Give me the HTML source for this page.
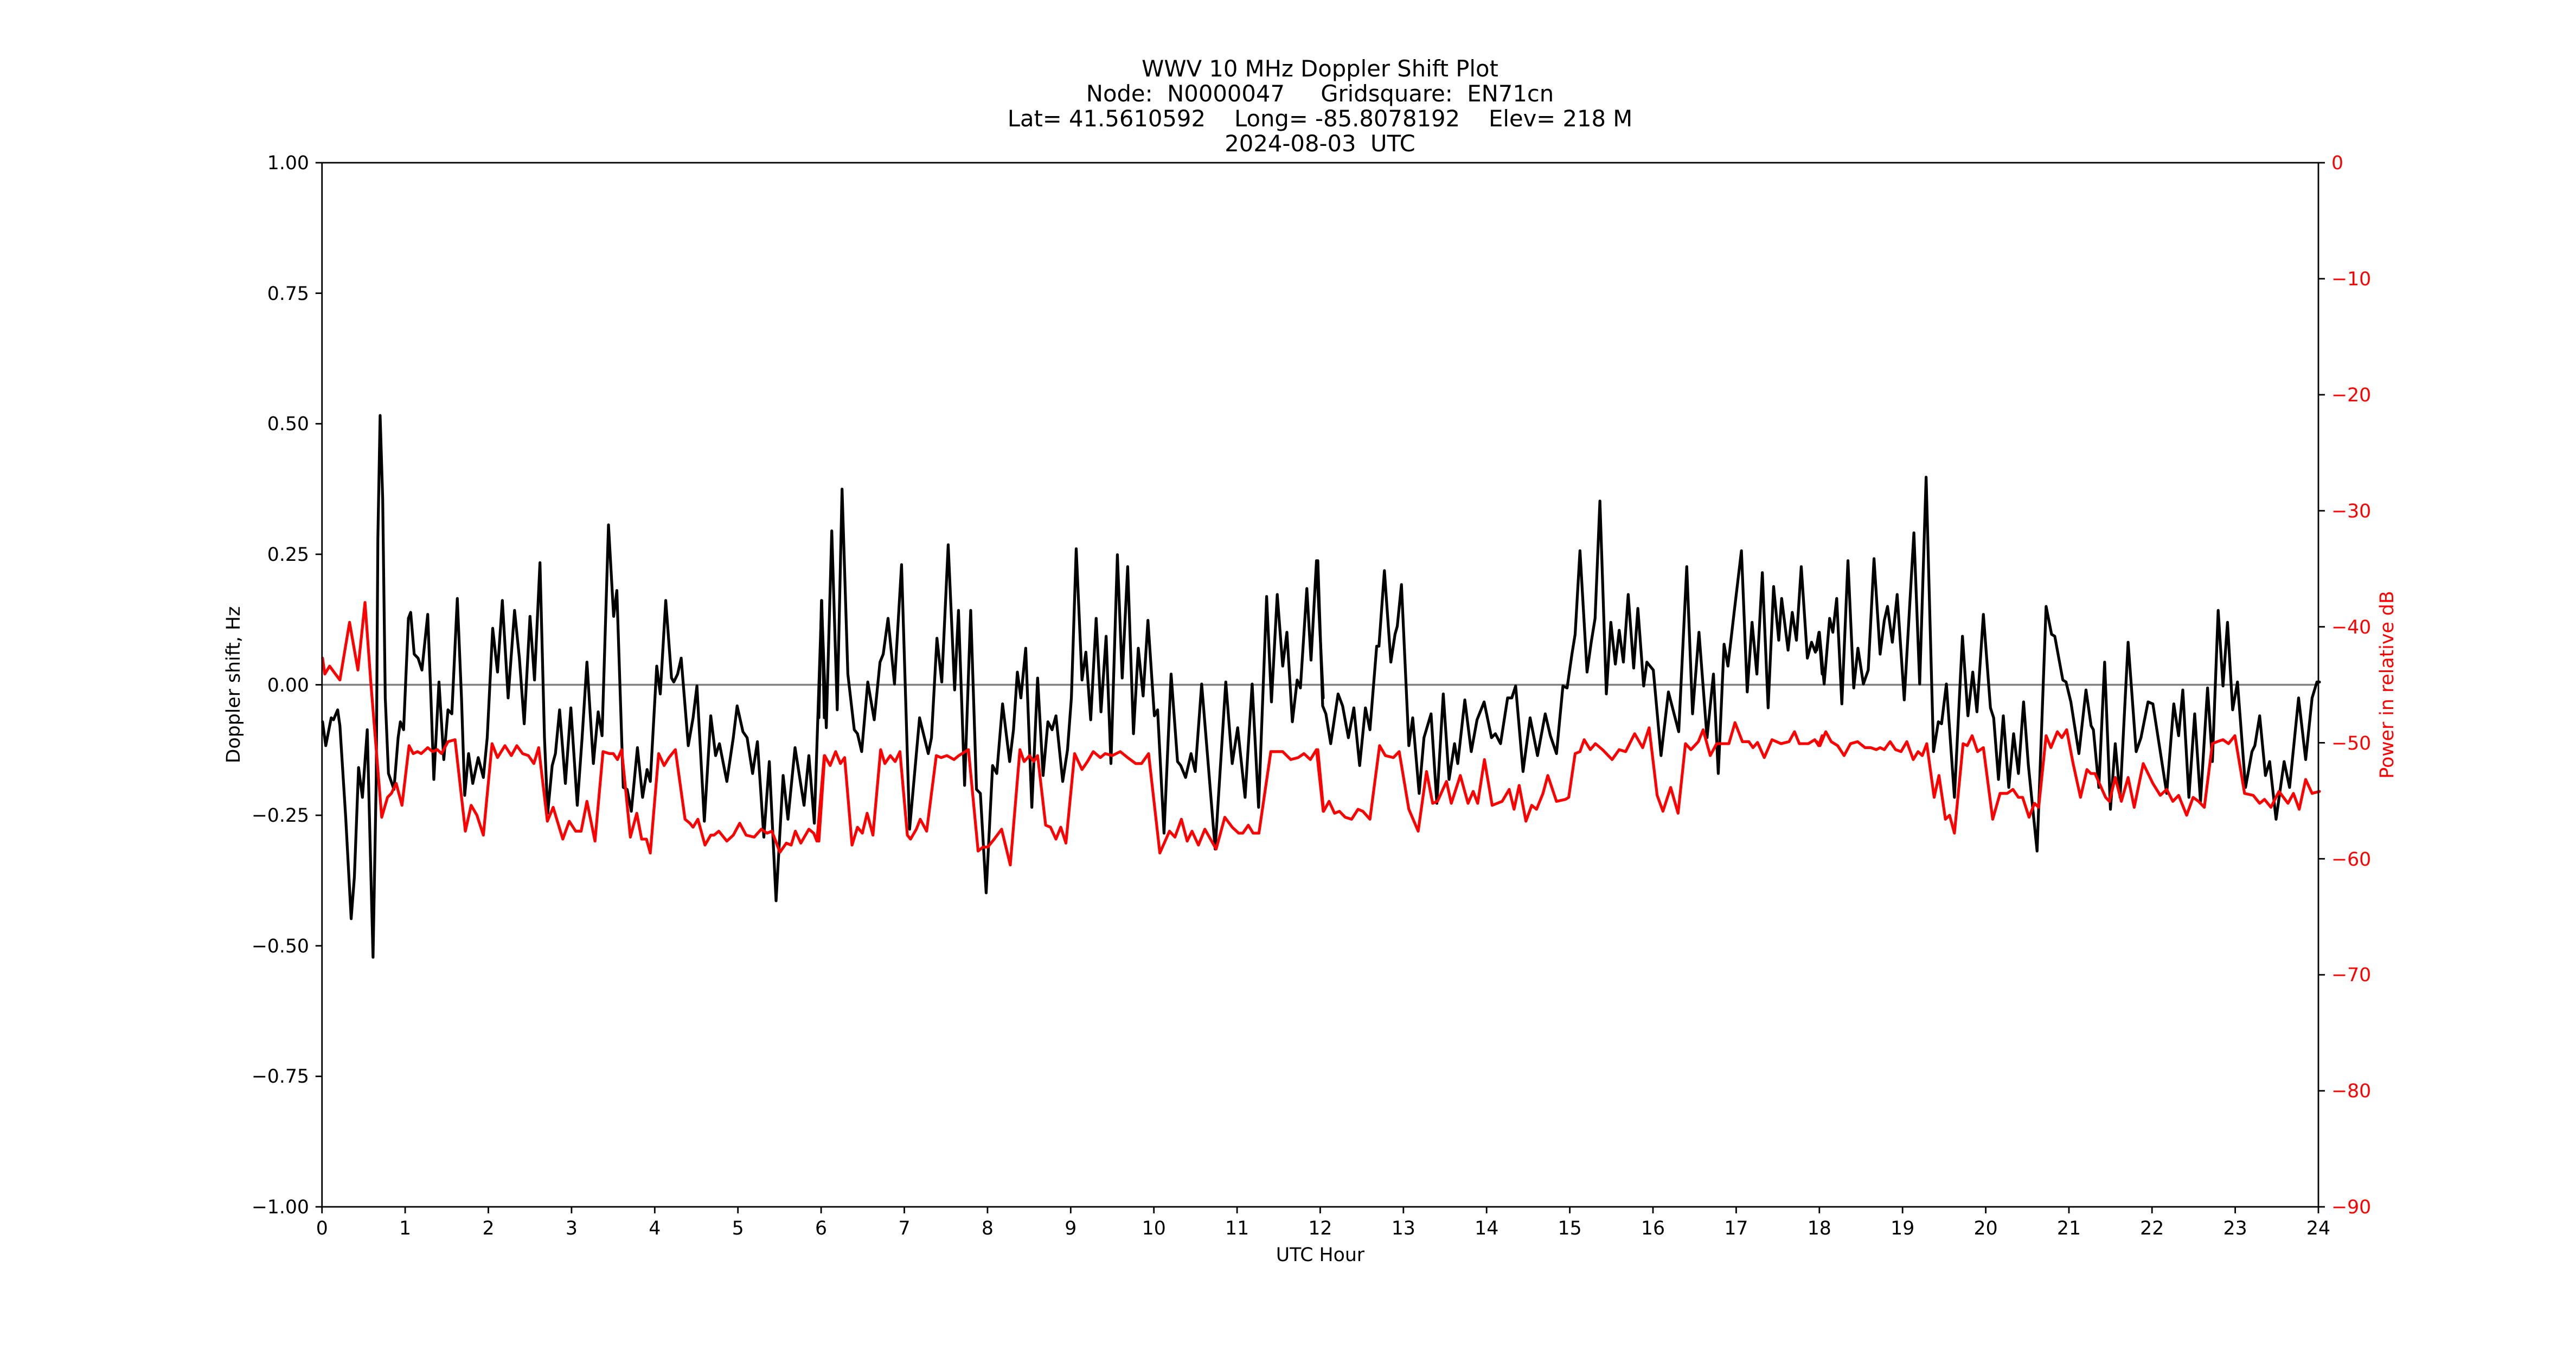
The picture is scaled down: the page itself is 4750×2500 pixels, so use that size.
<!DOCTYPE html>
<html><head><meta charset="utf-8"><style>
html,body{margin:0;padding:0;background:#fff;}
svg{display:block;font-family:"DejaVu Sans","Liberation Sans",sans-serif;}
text{white-space:pre;}
</style></head><body>
<svg width="4750" height="2500" viewBox="0 0 4750 2500" xmlns="http://www.w3.org/2000/svg">
<rect width="4750" height="2500" fill="#fff"/>
<g font-size="41.7" text-anchor="middle" fill="#000">
<text x="2434" y="141">WWV 10 MHz Doppler Shift Plot</text>
<text x="2434" y="187" xml:space="preserve">Node:  N0000047     Gridsquare:  EN71cn</text>
<text x="2434" y="233" xml:space="preserve">Lat= 41.5610592    Long= -85.8078192    Elev= 218 M</text>
<text x="2434" y="279" xml:space="preserve">2024-08-03  UTC</text>
</g>
<line x1="593.75" y1="1262.5" x2="4275" y2="1262.5" stroke="#808080" stroke-width="3.5"/>
<g fill="none" stroke-linejoin="round" stroke-linecap="round">
<g transform="translate(590,700) scale(0.5931,0.7334)">
<polyline vector-effect="non-scaling-stroke" stroke="#000" stroke-width="5.2" points="8,860 18,920 35,850 42,855 55,830 62,870 80,1100 97,1355 107,1250 120,975 132,1050 147,880 157,1200 165,1452 175,1000 180,400 187,90 195,300 203,800 213,990 230,1030 243,900 250,860 260,880 275,600 282,585 293,690 305,700 317,730 335,590 345,800 354,1005 370,760 385,955 398,830 410,840 427,550 440,800 450,1045 462,940 475,1015 492,950 508,1000 520,900 537,625 552,735 567,555 585,800 605,580 620,700 635,865 653,595 667,755 684,460 698,900 708,1090 722,970 732,940 745,830 763,1015 780,825 800,1070 815,900 830,710 850,965 865,835 877,895 897,365 913,595 923,530 943,1025 955,1030 968,1085 987,925 1003,1050 1017,980 1027,1010 1047,720 1058,790 1075,555 1093,750 1100,760 1112,740 1123,700 1145,920 1160,850 1172,770 1195,1110 1215,845 1230,945 1242,915 1265,1010 1285,900 1297,820 1315,885 1328,900 1345,990 1360,910 1380,1150 1397,960 1418,1310 1440,995 1455,1105 1477,925 1505,1070 1520,945 1537,1115 1560,555 1568,850"/>
<polyline vector-effect="non-scaling-stroke" stroke="#f00" stroke-width="5.2" points="8,700 15,740 30,720 48,740 62,755 92,610 118,730 140,560 158,760 192,1100 210,1050 222,1040 237,1015 255,1070 277,920 290,940 303,935 315,940 335,925 350,935 365,930 378,940 398,910 420,905 452,1135 470,1070 488,1095 508,1145 535,915 552,950 575,920 595,945 612,920 630,940 648,945 665,965 680,925 707,1110 725,1075 755,1155 775,1110 795,1135 812,1135 830,1060 855,1160 880,935 900,940 912,940 925,955 938,930 965,1150 985,1090 1000,1155 1015,1155 1027,1190 1053,940 1070,970 1085,950 1105,930 1135,1105 1150,1115 1160,1125 1175,1105 1197,1170 1215,1145 1225,1145 1240,1135 1265,1160 1285,1145 1305,1115 1325,1145 1350,1150 1372,1130 1390,1140 1405,1135 1430,1188 1450,1165 1465,1170 1478,1135 1495,1165 1520,1130 1535,1140 1545,1160 1568,945"/>
</g>
<g transform="translate(1510,700) scale(0.5931,0.7334)">
<polyline vector-effect="non-scaling-stroke" stroke="#000" stroke-width="5.2" points="0,850 8,555 23,875 40,380 57,830 72,275 90,740 110,880 120,890 133,935 152,760 172,855 190,710 200,690 215,600 235,765 257,465 282,1130 313,850 340,940 350,900 367,650 382,760 402,415 422,780 434,580 453,1020 472,580 490,1030 502,1040 520,1290 540,970 553,990 571,815 593,960 605,880 617,735 628,800 643,675 662,1075 680,750 697,995 712,860 725,880 737,845 758,1010 773,930 785,800 800,425 818,755 830,685 845,855 862,600 877,835 893,645 908,965 928,440 943,750 960,470 978,890 993,675 1008,795 1023,605 1043,845 1053,830 1073,1140 1095,740 1115,960 1125,970 1140,1000 1157,940 1170,985 1190,765 1232,1180 1265,760 1285,965 1302,875 1325,1050 1347,765 1367,1075 1392,545 1407,810 1425,540 1442,720 1455,635 1472,860 1487,755 1497,775 1517,525 1530,705 1547,455 1568,800"/>
<polyline vector-effect="non-scaling-stroke" stroke="#f00" stroke-width="5.2" points="0,1160 18,945 35,970 52,935 67,965 80,950 103,1170 120,1125 135,1140 150,1090 168,1145 192,930 205,965 222,945 237,960 252,935 275,1145 285,1155 303,1130 315,1105 335,1135 365,945 380,950 398,945 420,955 435,945 465,930 495,1185 510,1175 525,1175 545,1155 568,1130 595,1220 625,930 638,960 655,945 668,960 680,945 705,1120 720,1125 737,1155 752,1125 768,1165 795,940 818,980 835,960 853,935 875,950 890,940 912,945 937,935 960,950 985,965 1003,965 1025,940 1060,1190 1090,1135 1107,1150 1127,1105 1145,1160 1160,1135 1180,1170 1200,1130 1235,1180 1262,1100 1285,1125 1305,1140 1318,1140 1335,1120 1350,1140 1368,1140 1405,935 1422,935 1442,935 1467,955 1490,950 1508,940 1528,955 1547,930 1568,1085"/>
</g>
<g transform="translate(2430,700) scale(0.5931,0.7334)">
<polyline vector-effect="non-scaling-stroke" stroke="#000" stroke-width="5.2" points="0,455 15,820 25,840 40,915 63,790 77,820 95,900 112,825 130,970 148,825 162,880 183,670 190,670 207,480 227,710 240,640 247,620 260,515 283,920 295,850 315,1040 330,900 352,840 370,1065 390,790 408,1005 425,915 435,965 457,805 477,935 495,855 517,810 540,900 552,890 568,915 590,800 603,800 615,770 638,985 660,850 683,945 707,840 723,895 742,940 762,770 775,775 790,690 800,640 815,430 837,735 850,660 862,600 877,305 897,790 911,610 925,715 937,630 950,710 965,540 982,725 995,575 1013,770 1023,710 1043,730 1067,945 1090,785 1122,885 1147,470 1165,840 1185,635 1210,900 1230,740 1245,990 1263,665 1275,720 1295,580 1317,430 1335,785 1350,610 1365,740 1382,485 1400,825 1417,520 1433,655 1442,550 1462,680 1475,585 1488,655 1503,470 1522,700 1535,660 1547,685 1558,635 1568,740"/>
<polyline vector-effect="non-scaling-stroke" stroke="#f00" stroke-width="5.2" points="0,930 18,1085 35,1060 52,1090 67,1085 85,1100 105,1105 125,1080 140,1085 162,1105 192,920 210,945 235,950 253,935 283,1080 312,1135 338,985 357,1065 372,1060 400,1010 415,1065 443,995 467,1065 483,1035 497,1065 518,955 542,1070 573,1060 595,1030 610,1080 626,1020 647,1110 665,1070 680,1080 700,1040 715,995 742,1060 770,1055 780,1050 800,940 815,935 828,905 847,930 863,915 885,930 915,955 937,930 957,935 985,890 1010,925 1030,875 1055,1045 1073,1085 1097,1025 1120,1090 1143,915 1160,930 1183,910 1198,880 1220,945 1240,915 1265,915 1278,915 1297,862 1320,910 1340,910 1353,925 1367,912 1388,950 1412,905 1440,915 1465,910 1482,885 1497,915 1525,915 1545,905 1557,920 1568,895"/>
</g>
<g transform="translate(3350,700) scale(0.5931,0.7334)">
<polyline vector-effect="non-scaling-stroke" stroke="#000" stroke-width="5.2" points="0,680 8,635 23,765 40,600 50,635 62,550 78,815 97,455 115,775 128,675 145,765 160,730 178,450 197,690 210,605 220,570 235,660 250,540 272,805 302,385 320,765 340,245 363,935 378,860 388,865 403,765 428,1050 453,645 470,845 485,735 498,835 518,590 540,825 550,850 565,1005 580,845 597,1025 612,890 627,990 643,810 658,970 685,1185 713,570 730,640 740,645 765,755 775,760 790,810 815,940 837,780 853,870 860,880 877,1025 895,710 913,1080 928,915 943,1050 968,660 993,935 1008,900 1030,810 1045,815 1068,935 1088,1040 1110,815 1125,895 1138,780 1157,1050 1175,840 1193,1060 1215,775 1230,960 1248,580 1263,770 1277,610 1293,830 1308,760 1333,1025 1353,935 1362,920 1377,845 1395,995 1408,960 1428,1105 1453,960 1470,1025 1498,800 1520,955 1540,800 1555,760 1563,760"/>
<polyline vector-effect="non-scaling-stroke" stroke="#f00" stroke-width="5.2" points="0,910 10,920 28,885 45,910 65,920 85,945 105,915 127,910 150,925 168,925 185,930 197,925 210,930 228,910 245,930 262,935 280,910 300,955 315,935 328,945 342,915 365,1050 380,995 400,1105 413,1095 428,1140 455,915 468,920 483,895 500,935 518,925 547,1105 570,1040 592,1040 610,1030 627,1050 640,1050 660,1100 677,1065 690,1075 713,895 728,925 748,885 762,900 777,880 797,965 820,1050 840,980 852,990 865,990 898,1050 910,1060 928,1000 947,1060 968,1000 987,1075 1015,965 1045,1015 1068,1045 1088,1030 1107,1060 1125,1045 1150,1095 1170,1050 1187,1060 1205,1075 1230,915 1245,910 1263,905 1280,915 1300,895 1330,1040 1357,1045 1377,1065 1392,1055 1412,1075 1437,1035 1465,1065 1482,1040 1500,1080 1520,1005 1540,1040 1563,1035"/>
</g>
</g>
<rect x="593.75" y="300" width="3681.25" height="1925" fill="none" stroke="#000" stroke-width="2.8"/>
<g stroke="#000" stroke-width="2.8">
<line x1="581.75" y1="300" x2="593.75" y2="300"/><line x1="581.75" y1="540.6" x2="593.75" y2="540.6"/><line x1="581.75" y1="781.25" x2="593.75" y2="781.25"/><line x1="581.75" y1="1021.9" x2="593.75" y2="1021.9"/><line x1="581.75" y1="1262.5" x2="593.75" y2="1262.5"/><line x1="581.75" y1="1503.1" x2="593.75" y2="1503.1"/><line x1="581.75" y1="1743.75" x2="593.75" y2="1743.75"/><line x1="581.75" y1="1984.4" x2="593.75" y2="1984.4"/><line x1="581.75" y1="2225" x2="593.75" y2="2225"/>
</g>
<g font-size="34.7" text-anchor="end" fill="#000">
<text x="570" y="312">1.00</text><text x="570" y="553">0.75</text><text x="570" y="793">0.50</text><text x="570" y="1034">0.25</text><text x="570" y="1275">0.00</text><text x="570" y="1515">−0.25</text><text x="570" y="1756">−0.50</text><text x="570" y="1996">−0.75</text><text x="570" y="2237">−1.00</text>
</g>
<g stroke="#000" stroke-width="2.8">
<line x1="4275" y1="300" x2="4287" y2="300"/><line x1="4275" y1="513.9" x2="4287" y2="513.9"/><line x1="4275" y1="727.8" x2="4287" y2="727.8"/><line x1="4275" y1="941.7" x2="4287" y2="941.7"/><line x1="4275" y1="1155.6" x2="4287" y2="1155.6"/><line x1="4275" y1="1369.4" x2="4287" y2="1369.4"/><line x1="4275" y1="1583.3" x2="4287" y2="1583.3"/><line x1="4275" y1="1797.2" x2="4287" y2="1797.2"/><line x1="4275" y1="2011.1" x2="4287" y2="2011.1"/><line x1="4275" y1="2225" x2="4287" y2="2225"/>
</g>
<g font-size="34.7" text-anchor="start" fill="#f00">
<text x="4299" y="312">0</text><text x="4299" y="526">−10</text><text x="4299" y="740">−20</text><text x="4299" y="954">−30</text><text x="4299" y="1168">−40</text><text x="4299" y="1382">−50</text><text x="4299" y="1596">−60</text><text x="4299" y="1809">−70</text><text x="4299" y="2023">−80</text><text x="4299" y="2237">−90</text>
</g>
<g stroke="#000" stroke-width="2.8">
<line x1="593.75" y1="2225" x2="593.75" y2="2237"/><line x1="747.1" y1="2225" x2="747.1" y2="2237"/><line x1="900.5" y1="2225" x2="900.5" y2="2237"/><line x1="1053.9" y1="2225" x2="1053.9" y2="2237"/><line x1="1207.3" y1="2225" x2="1207.3" y2="2237"/><line x1="1360.7" y1="2225" x2="1360.7" y2="2237"/><line x1="1514.1" y1="2225" x2="1514.1" y2="2237"/><line x1="1667.5" y1="2225" x2="1667.5" y2="2237"/><line x1="1820.9" y1="2225" x2="1820.9" y2="2237"/><line x1="1974.3" y1="2225" x2="1974.3" y2="2237"/><line x1="2127.7" y1="2225" x2="2127.7" y2="2237"/><line x1="2281.1" y1="2225" x2="2281.1" y2="2237"/><line x1="2434.4" y1="2225" x2="2434.4" y2="2237"/><line x1="2587.8" y1="2225" x2="2587.8" y2="2237"/><line x1="2741.2" y1="2225" x2="2741.2" y2="2237"/><line x1="2894.6" y1="2225" x2="2894.6" y2="2237"/><line x1="3048" y1="2225" x2="3048" y2="2237"/><line x1="3201.4" y1="2225" x2="3201.4" y2="2237"/><line x1="3354.8" y1="2225" x2="3354.8" y2="2237"/><line x1="3508.2" y1="2225" x2="3508.2" y2="2237"/><line x1="3661.6" y1="2225" x2="3661.6" y2="2237"/><line x1="3815" y1="2225" x2="3815" y2="2237"/><line x1="3968.2" y1="2225" x2="3968.2" y2="2237"/><line x1="4121.6" y1="2225" x2="4121.6" y2="2237"/><line x1="4275" y1="2225" x2="4275" y2="2237"/>
</g>
<g font-size="34.7" text-anchor="middle" fill="#000">
<text x="593.75" y="2276">0</text><text x="747.1" y="2276">1</text><text x="900.5" y="2276">2</text><text x="1053.9" y="2276">3</text><text x="1207.3" y="2276">4</text><text x="1360.7" y="2276">5</text><text x="1514.1" y="2276">6</text><text x="1667.5" y="2276">7</text><text x="1820.9" y="2276">8</text><text x="1974.3" y="2276">9</text><text x="2127.7" y="2276">10</text><text x="2281.1" y="2276">11</text><text x="2434.4" y="2276">12</text><text x="2587.8" y="2276">13</text><text x="2741.2" y="2276">14</text><text x="2894.6" y="2276">15</text><text x="3048" y="2276">16</text><text x="3201.4" y="2276">17</text><text x="3354.8" y="2276">18</text><text x="3508.2" y="2276">19</text><text x="3661.6" y="2276">20</text><text x="3815" y="2276">21</text><text x="3968.2" y="2276">22</text><text x="4121.6" y="2276">23</text><text x="4275" y="2276">24</text>
<text x="2434.4" y="2325">UTC Hour</text>
<text transform="translate(442,1262.5) rotate(-90)">Doppler shift, Hz</text>
</g>
<text font-size="34.7" text-anchor="middle" fill="#f00" transform="translate(4413,1262.5) rotate(-90)">Power in relative dB</text>
</svg>
</body></html>
